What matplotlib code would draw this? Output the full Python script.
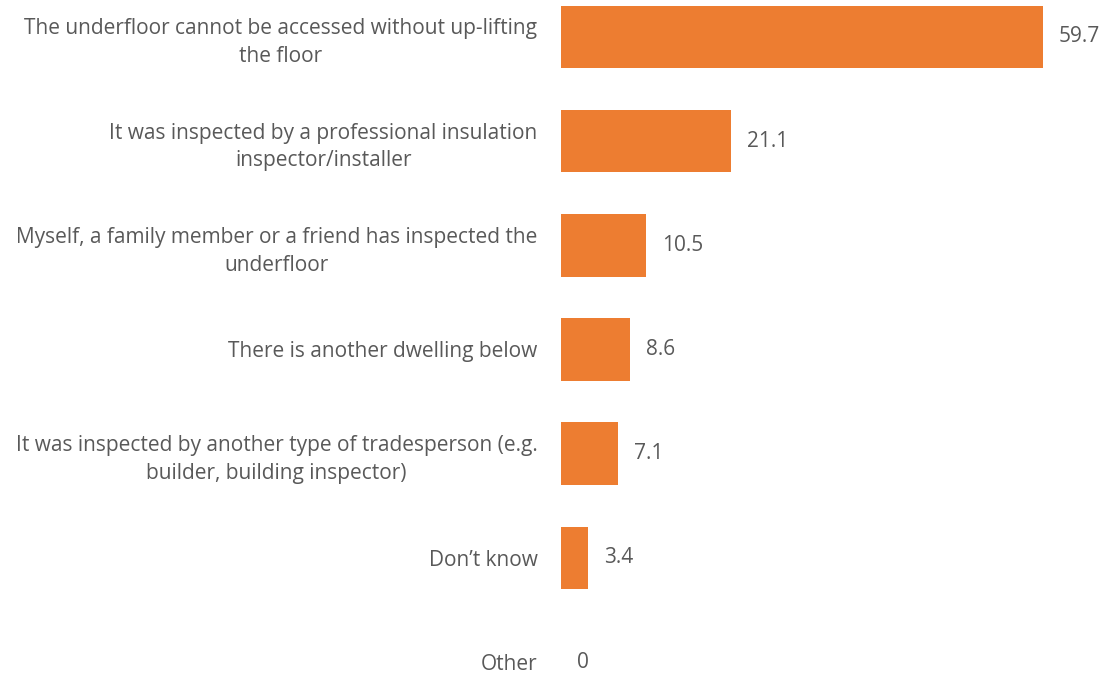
import matplotlib
matplotlib.use("Agg")
import matplotlib.pyplot as plt

categories = [
    "The underfloor cannot be accessed without up-lifting\nthe floor",
    "It was inspected by a professional insulation\ninspector/installer",
    "Myself, a family member or a friend has inspected the\nunderfloor",
    "There is another dwelling below",
    "It was inspected by another type of tradesperson (e.g.\nbuilder, building inspector)",
    "Don\u2019t know",
    "Other",
]
values = [59.7, 21.1, 10.5, 8.6, 7.1, 3.4, 0]
value_labels = ["59.7", "21.1", "10.5", "8.6", "7.1", "3.4", "0"]

bar_color = "#ED7D31"
text_color = "#595959"
plt.rcParams["font.family"] = ["Open Sans", "DejaVu Sans"]

fig = plt.figure(figsize=(11.06, 6.74), dpi=100)
ax = fig.add_axes([561 / 1106, 0, 1 - 561 / 1106, 1])

ypos = list(range(len(categories)))
ax.barh(ypos, values, height=0.6, color=bar_color)

ax.set_xlim(0, 545 / 8.07)
ax.set_ylim(6 + 12 / 104.17, -37 / 104.17)

for y, v, lab in zip(ypos, values, value_labels):
    ax.annotate(lab, xy=(v, y), xytext=(11.5, 0), textcoords="offset points",
                ha="left", va="center", fontsize=15, color=text_color)

ax.set_yticks(ypos)
ax.set_yticklabels(categories, fontsize=15, color=text_color,
                   ha="right", linespacing=1.42)
for lbl in ax.get_yticklabels():
    lbl.set_multialignment("center")
ax.tick_params(axis="y", length=0, pad=17)

ax.set_xticks([])
for s in ax.spines.values():
    s.set_visible(False)

fig.savefig("out.png", dpi=100, facecolor="white")
